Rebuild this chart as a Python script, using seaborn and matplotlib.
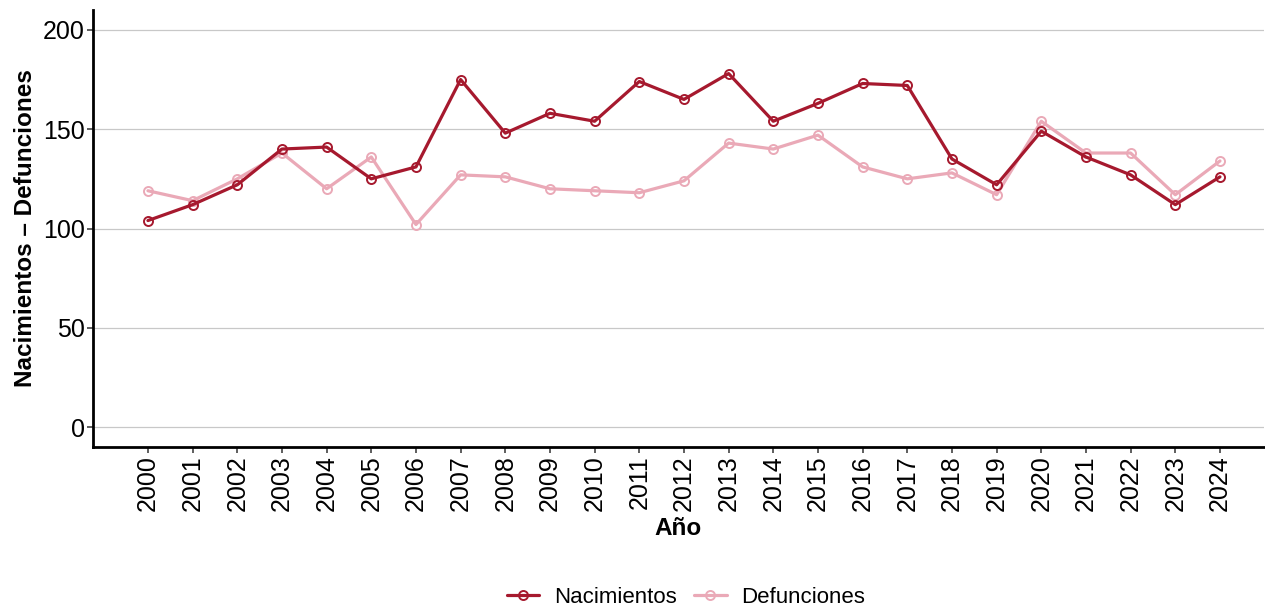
import pandas as pd
import matplotlib
matplotlib.use("Agg")
import matplotlib.pyplot as plt
import seaborn as sns

years = list(range(2000, 2025))
nacimientos = [104, 112, 122, 140, 141, 125, 131, 175, 148, 158, 154, 174, 165,
               178, 154, 163, 173, 172, 135, 122, 149, 136, 127, 112, 126]
defunciones = [119, 114, 125, 138, 120, 136, 102, 127, 126, 120, 119, 118, 124,
               143, 140, 147, 131, 125, 128, 117, 154, 138, 138, 117, 134]

series_names = ["Nacimientos", "Defunciones"]
colors = {"Nacimientos": "#A6192E", "Defunciones": "#EAA9B7"}

df = pd.DataFrame({"Año": years, "Nacimientos": nacimientos, "Defunciones": defunciones})
long_df = df.melt(id_vars="Año", var_name="serie", value_name="valor")

sns.set_theme(style="white")
plt.rcParams['font.family'] = ['Liberation Sans', 'DejaVu Sans']
plt.rcParams['text.color'] = 'black'
plt.rcParams['axes.labelcolor'] = 'black'

fig = plt.figure(figsize=(12.65, 6.09), dpi=100)
ax = fig.add_axes([93 / 1265, 162 / 609, 1 - 93 / 1265 - 0.001, (599 - 162) / 609])

# draw defunciones first so nacimientos sits on top
for name in reversed(series_names):
    sub = long_df[long_df["serie"] == name]
    sns.lineplot(data=sub, x="Año", y="valor", ax=ax, color=colors[name],
                 linewidth=2.3, marker="o", markersize=6.5,
                 markerfacecolor="none", markeredgecolor=colors[name],
                 markeredgewidth=1.4, label=name)

ax.set_ylim(-10, 210)
ax.set_xlim(1998.77, 2024.98)
ax.set_yticks([0, 50, 100, 150, 200])
ax.set_xticks(years)
ax.set_xticklabels([str(y) for y in years], rotation=90)
ax.yaxis.grid(True, color="#C8C8C8", linewidth=0.9)
ax.xaxis.grid(False)
ax.set_axisbelow(True)

for side in ["top", "right"]:
    ax.spines[side].set_visible(False)
for side in ["left", "bottom"]:
    ax.spines[side].set_color("black")
    ax.spines[side].set_linewidth(2)

ax.tick_params(axis="both", which="both", length=4, width=1.1, color="#333333",
               labelsize=18, labelcolor="black", left=True, bottom=True, pad=2)
ax.set_xlabel("Año", fontsize=17.5, fontweight="bold", labelpad=4)
ax.set_ylabel("Nacimientos – Defunciones", fontsize=17.5, fontweight="bold", labelpad=4)

handles, labels = ax.get_legend_handles_labels()
order = [labels.index(n) for n in series_names]
ax.legend([handles[i] for i in order], [labels[i] for i in order],
          loc="lower center", bbox_to_anchor=(686 / 1265, 0.002), bbox_transform=fig.transFigure,
          ncol=2, frameon=False, fontsize=16, handlelength=1.45, columnspacing=0.8,
          handletextpad=0.65, borderaxespad=0.0, borderpad=0.0)

fig.savefig("out.png", dpi=100)
